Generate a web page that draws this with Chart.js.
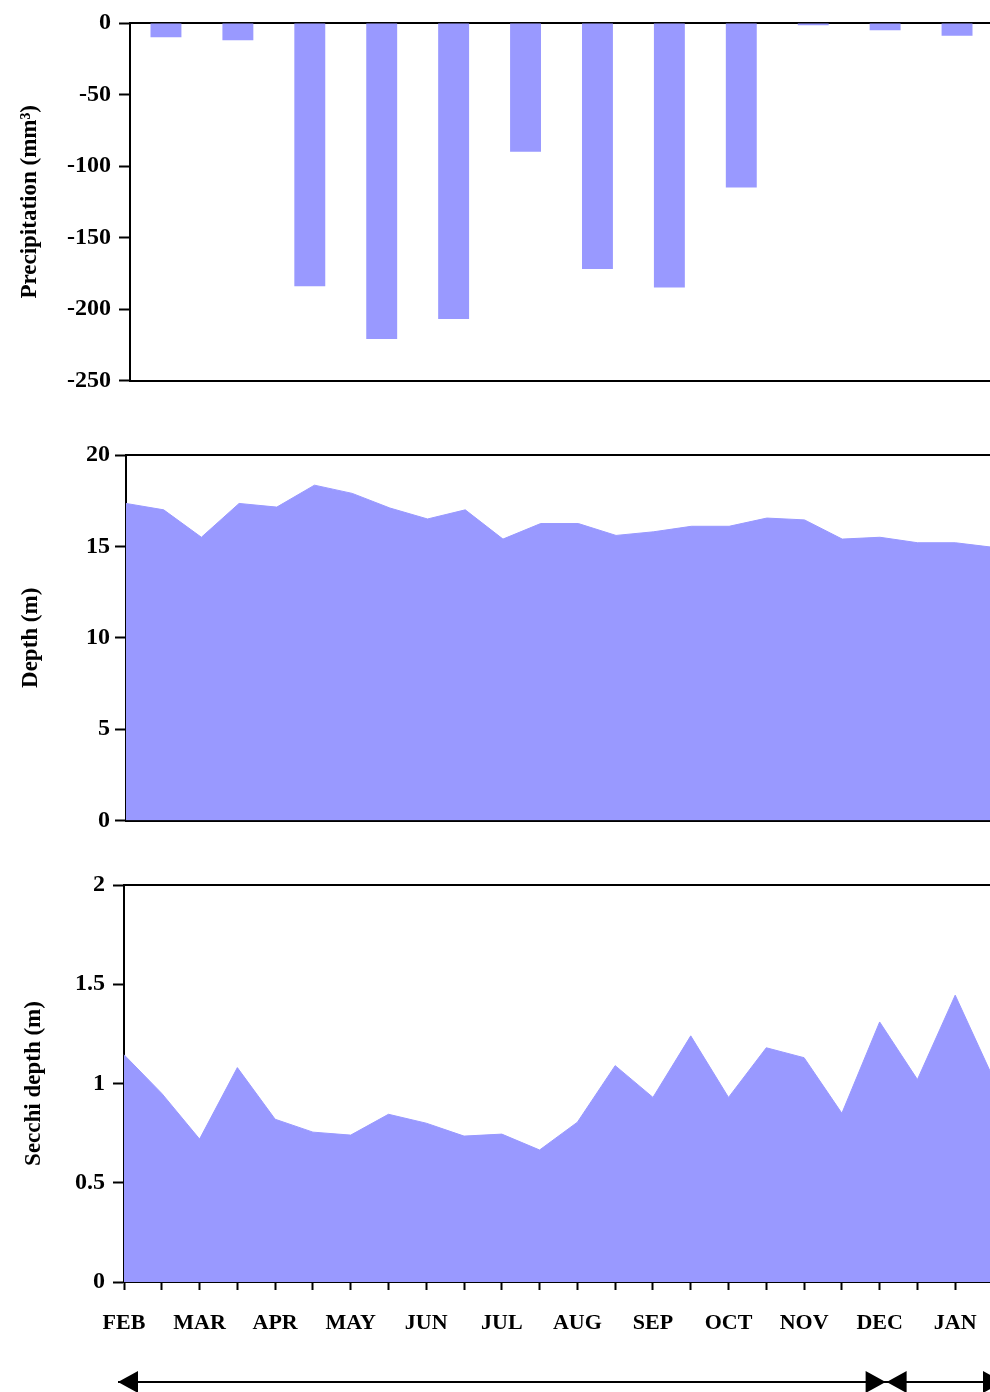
<!DOCTYPE html>
<html>
<head>
<meta charset="utf-8">
<script src="https://cdn.jsdelivr.net/npm/chart.js@4"></script>
<style>
  html, body { margin: 0; padding: 0; background: #fff; overflow: hidden; }
  body { width: 990px; height: 1392px; position: relative; }
  .box { position: absolute; left: 0; }
</style>
</head>
<body>
<div class="box" style="top:0px"><canvas id="precipChart" width="1000" height="403"></canvas></div>
<div class="box" style="top:420px"><canvas id="depthChart" width="1000" height="420"></canvas></div>
<div class="box" style="top:850px"><canvas id="secchiChart" width="1013" height="542"></canvas></div>
<script>
// monthly precipitation (bars)
const months = ["FEB", "MAR", "APR", "MAY", "JUN", "JUL", "AUG", "SEP", "OCT", "NOV", "DEC", "JAN"]
const precipitation = [-10, -12, -184, -221, -207, -90, -172, -185, -115, -1.5, -5, -9]

// twice-monthly samples
const sampleLabels = ["FEB", "", "MAR", "", "APR", "", "MAY", "", "JUN", "", "JUL", "",
    "AUG", "", "SEP", "", "OCT", "", "NOV", "", "DEC", "", "JAN", ""]
const depth = [17.35, 17.0, 15.5, 17.35, 17.15, 18.35, 17.9, 17.1, 16.5, 17.0, 15.4, 16.25,
    16.25, 15.6, 15.8, 16.1, 16.1, 16.55, 16.45, 15.4, 15.5, 15.2, 15.2, 14.95]
const secchi = [1.145, 0.95, 0.72, 1.08, 0.82, 0.755, 0.74, 0.845, 0.80, 0.735, 0.745, 0.665,
    0.805, 1.09, 0.93, 1.24, 0.93, 1.18, 1.13, 0.85, 1.31, 1.02, 1.445, 1.03]

const FILL = "#9999ff"
const FONT = "'Liberation Serif', 'Times New Roman', serif"

Chart.defaults.color = "#000"
Chart.defaults.font.family = FONT
Chart.defaults.animation = false

function yAxis(min, max, step, title, width, pad, titlePad) {
    return {
        min: min, max: max,
        ticks: {
            stepSize: step, padding: pad, color: "#000",
            font: { size: 24, weight: "bold" },
            callback: (v) => String(Math.round(v * 100) / 100)
        },
        grid: { drawOnChartArea: false, drawTicks: true, tickLength: 11, tickWidth: 2, color: "#000" },
        border: { display: true, color: "#000", width: 2 },
        title: { display: true, text: title, padding: { top: titlePad }, font: { size: 23, weight: "bold" }, color: "#000" },
        afterFit: (scale) => { scale.width = width }
    }
}

function topAxis() {
    return {
        position: "top",
        ticks: { display: false },
        grid: { display: false },
        border: { display: true, color: "#000", width: 2 },
        afterFit: (scale) => { scale.height = 0 }
    }
}

// bottom x axis with no labels
function plainX(h) {
    return {
        ticks: { display: false },
        grid: { display: false },
        border: { display: true, color: "#000", width: 2 },
        afterFit: (scale) => { scale.height = h }
    }
}

new Chart(document.getElementById("precipChart"), {
    type: "bar",
    data: {
        labels: months,
        datasets: [{
            data: precipitation,
            backgroundColor: FILL,
            borderWidth: 0,
            barPercentage: 0.43,
            categoryPercentage: 1
        }]
    },
    options: {
        responsive: false,
        layout: { padding: { top: 23, right: 7, left: 0, bottom: 0 } },
        plugins: { legend: { display: false }, tooltip: { enabled: false } },
        scales: {
            x: plainX(16),
            x2: topAxis(),
            y: yAxis(-250, 0, 50, "Precipitation (mm\u00b3)", 130, 8, 16)
        }
    }
})

new Chart(document.getElementById("depthChart"), {
    type: "line",
    data: {
        labels: sampleLabels,
        datasets: [{
            data: depth,
            fill: "origin",
            backgroundColor: FILL,
            borderColor: FILL,
            borderWidth: 1,
            pointRadius: 0,
            tension: 0
        }]
    },
    options: {
        responsive: false,
        layout: { padding: { top: 35, right: 7, left: 0, bottom: 0 } },
        plugins: { legend: { display: false }, tooltip: { enabled: false } },
        scales: {
            x: plainX(19),
            x2: topAxis(),
            y: yAxis(0, 20, 5, "Depth (m)", 126, 5, 17)
        }
    }
})

// period arrows under the month labels
const periodArrows = {
    id: "periodArrows",
    afterDraw(chart) {
        const ctx = chart.ctx
        const x = chart.scales.x
        const y = chart.chartArea.bottom + 100
        const a = x.getPixelForValue(0) - 6
        const b = x.getPixelForValue(20) + 6
        const c = x.getPixelForValue(23) + 10
        ctx.save()
        ctx.strokeStyle = "#000"
        ctx.fillStyle = "#000"
        ctx.lineWidth = 2
        ctx.beginPath()
        ctx.moveTo(a, y)
        ctx.lineTo(c, y)
        ctx.stroke()
        const head = (tip, dir) => {
            ctx.beginPath()
            ctx.moveTo(tip, y)
            ctx.lineTo(tip - dir * 20, y - 11)
            ctx.lineTo(tip - dir * 20, y + 11)
            ctx.closePath()
            ctx.fill()
        }
        head(a, -1)
        head(b, 1)
        head(b + 1, -1)
        head(c, 1)
        ctx.restore()
    }
}

new Chart(document.getElementById("secchiChart"), {
    type: "line",
    data: {
        labels: sampleLabels,
        datasets: [{
            data: secchi,
            fill: "origin",
            backgroundColor: FILL,
            borderColor: FILL,
            borderWidth: 1,
            pointRadius: 0,
            tension: 0
        }]
    },
    options: {
        responsive: false,
        layout: { padding: { top: 35, right: 0, left: 0, bottom: 0 } },
        plugins: { legend: { display: false }, tooltip: { enabled: false } },
        scales: {
            x: {
                ticks: { autoSkip: false, maxRotation: 0, padding: 20, font: { size: 22, weight: "bold" }, color: "#000" },
                grid: { drawOnChartArea: false, drawTicks: true, tickLength: 8, tickWidth: 2, color: "#000" },
                border: { display: true, color: "#000", width: 2 },
                afterFit: (scale) => { scale.height = 110 }
            },
            x2: topAxis(),
            y: yAxis(0, 2, 0.5, "Secchi depth (m)", 124, 8, 20)
        }
    },
    plugins: [periodArrows]
})
</script>
</body>
</html>
